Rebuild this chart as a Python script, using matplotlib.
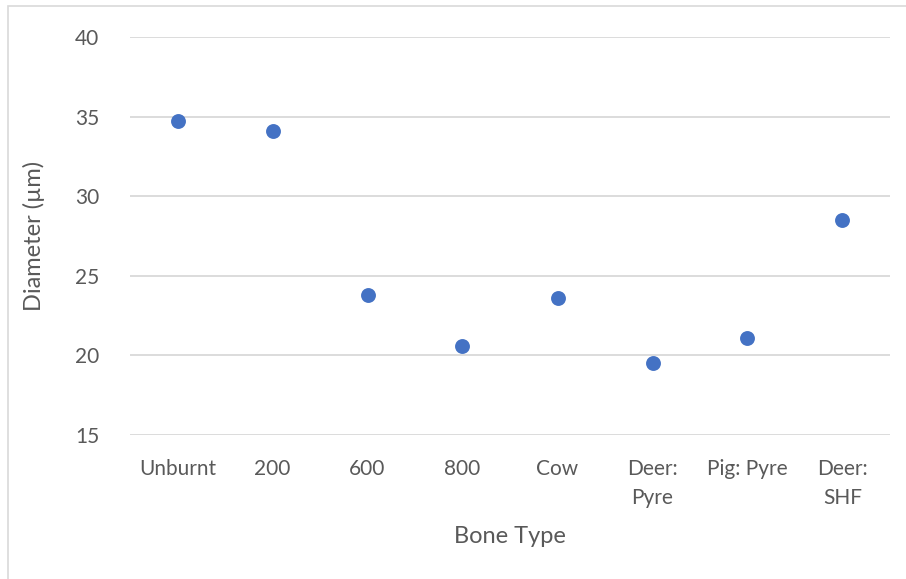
import matplotlib.pyplot as plt
from matplotlib.patches import Rectangle

""" Data """
bone_types = ["Unburnt", "200", "600", "800", "Cow", "Deer:\nPyre", "Pig: Pyre", "Deer:\nSHF"]
diameter = [34.7, 34.1, 23.8, 20.6, 23.6, 19.5, 21.1, 28.5]
y_ticks = [15, 20, 25, 30, 35, 40]

plt.rcParams['font.family'] = ['Lato', 'DejaVu Sans']

fig = plt.figure(figsize=(9.06, 5.79), dpi=100)
ax = fig.add_axes([130 / 906, 1 - 435 / 579, 760 / 906, 398 / 579])

# chart border (only left and top visible in the original)
fig.patches.append(Rectangle((8 / 906, -0.05), 1.0, 1 - 6 / 579 + 0.05,
                             transform=fig.transFigure, fill=False,
                             edgecolor="#d9d9d9", linewidth=1.2))

x = list(range(len(bone_types)))
ax.scatter(x, diameter, s=115, color="#4472C4", zorder=3, linewidths=0)

ax.set_xlim(-0.5, len(bone_types) - 0.5)
ax.set_ylim(15, 40)
ax.set_yticks(y_ticks)
ax.set_xticks(x)
ax.set_xticklabels(bone_types, linespacing=1.6, va="top")
ax.tick_params(axis="both", length=0, labelsize=15, colors="#595959")
ax.tick_params(axis="x", pad=17)
ax.tick_params(axis="y", pad=22)
ax.grid(axis="y", color="#d9d9d9", linewidth=1.3)
ax.set_axisbelow(True)
for s in ax.spines.values():
    s.set_visible(False)

ax.set_xlabel("Bone Type", fontsize=17, color="#595959", labelpad=13)
ax.set_ylabel("Diameter (µm)", fontsize=17, color="#595959", labelpad=22)

fig.savefig("out.png", dpi=100)
